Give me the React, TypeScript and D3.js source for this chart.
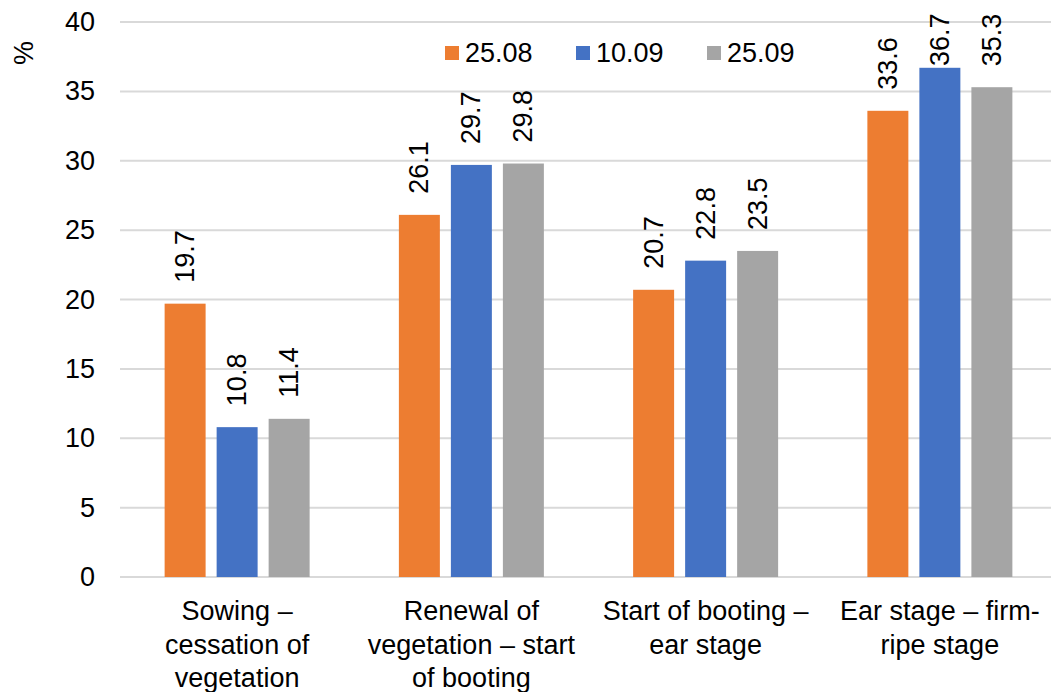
import React from "react";
import * as d3 from "d3";

const categories: string[][] = [
  ["Sowing –", "cessation of", "vegetation"],
  ["Renewal of", "vegetation – start", "of booting"],
  ["Start of booting –", "ear stage"],
  ["Ear stage – firm-", "ripe stage"],
];
const seriesNames = ["25.08", "10.09", "25.09"];
const s1 = [19.7, 26.1, 20.7, 33.6];
const s2 = [10.8, 29.7, 22.8, 36.7];
const s3 = [11.4, 29.8, 23.5, 35.3];
const yTicks = [0, 5, 10, 15, 20, 25, 30, 35, 40];
const colors = ["#ED7D31", "#4472C4", "#A5A5A5"];

const W = 1051;
const H = 692;
const FONT = "'Liberation Sans', Arial, sans-serif";
const FS = 27;

export default function App() {
  const series = [s1, s2, s3];
  const left = 120;
  const right = 1057;
  const y = d3.scaleLinear().domain([0, 40]).range([577, 22]);
  const x0 = d3
    .scaleBand<number>()
    .domain(categories.map((_, i) => i))
    .range([left, right])
    .padding(0);
  const groupInner = 145;
  const x1 = d3
    .scaleBand<number>()
    .domain([0, 1, 2])
    .range([0, groupInner])
    .paddingInner(0.212)
    .paddingOuter(0);
  const bw = x1.bandwidth();
  const gOff = (x0.bandwidth() - groupInner) / 2;

  return (
    <svg
      width={W}
      height={H}
      style={{ position: "absolute", left: 0, top: 0, background: "#fff" }}
      fontFamily={FONT}
    >
      {yTicks.map((t) => (
        <g key={t}>
          <line
            x1={left}
            x2={W}
            y1={y(t)}
            y2={y(t)}
            stroke="#d9d9d9"
            strokeWidth={2}
          />
          <text
            x={95}
            y={y(t)}
            textAnchor="end"
            dominantBaseline="central"
            fontSize={FS}
            fill="#000"
          >
            {t}
          </text>
        </g>
      ))}
      <text
        transform={`translate(24,53) rotate(-90)`}
        textAnchor="middle"
        dominantBaseline="central"
        fontSize={FS}
      >
        %
      </text>
      {series.map((vals, si) =>
        vals.map((v, ci) => {
          const bx = (x0(ci) as number) + gOff + (x1(si) as number);
          const top = y(v);
          const cx = bx + bw / 2;
          const ly = Math.max(top - 21, 66);
          return (
            <g key={`${si}-${ci}`}>
              <rect
                x={bx}
                y={top}
                width={bw}
                height={y(0) - top}
                fill={colors[si]}
              />
              <text
                transform={`translate(${cx},${ly}) rotate(-90)`}
                textAnchor="start"
                dominantBaseline="central"
                fontSize={FS}
              >
                {v.toFixed(1)}
              </text>
            </g>
          );
        })
      )}
      {categories.map((lines, ci) => {
        const cx = (x0(ci) as number) + x0.bandwidth() / 2;
        return (
          <text key={ci} textAnchor="middle" fontSize={FS}>
            {lines.map((l, li) => (
              <tspan key={li} x={cx} y={620 + li * 33.5}>
                {l}
              </tspan>
            ))}
          </text>
        );
      })}
      {seriesNames.map((n, i) => {
        const lx = 445 + i * 131;
        return (
          <g key={n}>
            <rect x={lx} y={46} width={14} height={14} fill={colors[i]} />
            <text
              x={lx + 20}
              y={53}
              dominantBaseline="central"
              fontSize={FS}
            >
              {n}
            </text>
          </g>
        );
      })}
    </svg>
  );
}
